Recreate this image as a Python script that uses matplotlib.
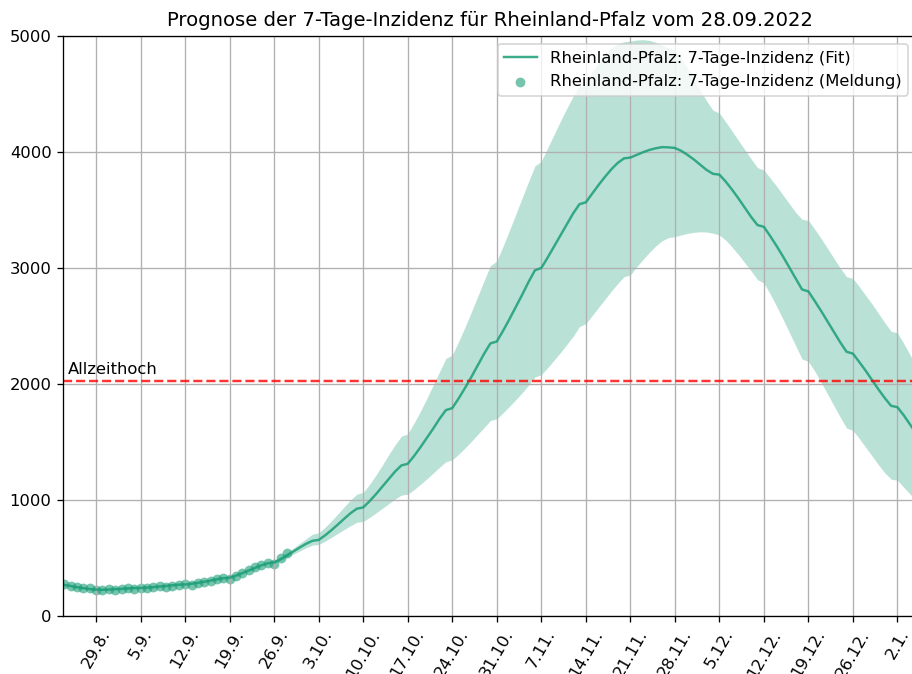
import numpy as np
import pandas as pd
import matplotlib
matplotlib.use("Agg")
import matplotlib.pyplot as plt
import matplotlib.dates as mdates

title = "Prognose der 7-Tage-Inzidenz für Rheinland-Pfalz vom 28.09.2022"
label_fit = "Rheinland-Pfalz: 7-Tage-Inzidenz (Fit)"
label_obs = "Rheinland-Pfalz: 7-Tage-Inzidenz (Meldung)"
record_label = "Allzeithoch"
record_value = 2030

fit_start = "2022-08-24"
fit_values = [
    268, 258, 248, 240, 232,                      # Aug 24-28
    228, 226, 228, 231, 234, 238, 241,            # Aug 29 -
    242, 245, 249, 254, 259, 265, 270,            # Sep 5 -
    272, 278, 286, 295, 305, 316, 326,            # Sep 12 -
    330, 348, 370, 392, 415, 437, 455,            # Sep 19 -
    462, 490, 522, 556, 590, 622, 648,            # Sep 26 -
    656, 695, 740, 788, 838, 886, 925,            # Oct 3 -
    936, 990, 1050, 1115, 1180, 1245, 1298,       # Oct 10 -
    1312, 1380, 1455, 1535, 1615, 1700, 1775,     # Oct 17 -
    1792, 1875, 1965, 2060, 2160, 2260, 2350,     # Oct 24 -
    2366, 2460, 2560, 2665, 2770, 2880, 2980,     # Oct 31 -
    3000, 3090, 3185, 3280, 3375, 3470, 3550,     # Nov 7 -
    3566, 3640, 3715, 3785, 3850, 3905, 3945,     # Nov 14 -
    3952, 3975, 3998, 4018, 4032, 4042, 4040,     # Nov 21 -
    4035, 4010, 3975, 3935, 3890, 3845, 3812,     # Nov 28 -
    3805, 3745, 3675, 3600, 3520, 3440, 3370,     # Dec 5 -
    3355, 3275, 3190, 3100, 3005, 2910, 2815,     # Dec 12 -
    2798, 2715, 2630, 2540, 2450, 2360, 2278,     # Dec 19 -
    2262, 2190, 2115, 2035, 1955, 1880, 1812,     # Dec 26 -
    1800, 1730, 1650, 1570,                       # Jan 2 - 5
]

band_start = "2022-09-26"
band_upper = [
    470, 505, 545, 585, 625, 665, 705,
    718, 765, 820, 880, 940, 1000, 1050,
    1065, 1135, 1215, 1300, 1390, 1475, 1550,
    1570, 1665, 1765, 1875, 1990, 2105, 2220,
    2250, 2365, 2490, 2620, 2755, 2890, 3020,
    3060, 3190, 3325, 3465, 3605, 3745, 3880,
    3920, 4035, 4150, 4265, 4375, 4480, 4570,
    4600, 4690, 4770, 4840, 4895, 4930, 4950,
    4955, 4965, 4968, 4962, 4945, 4920, 4895,
    4880, 4810, 4720, 4625, 4530, 4440, 4360,
    4336, 4260, 4180, 4100, 4020, 3940, 3865,
    3845, 3775, 3705, 3630, 3555, 3480, 3420,
    3410, 3335, 3255, 3170, 3085, 3000, 2925,
    2910, 2840, 2765, 2690, 2610, 2530, 2455,
    2440, 2350, 2250, 2150,
]
band_lower = [
    452, 478, 505, 533, 560, 588, 610,
    616, 645, 678, 712, 745, 778, 808,
    815, 850, 888, 928, 968, 1008, 1042,
    1050, 1090, 1135, 1182, 1232, 1282, 1330,
    1345, 1395, 1448, 1505, 1565, 1625, 1685,
    1700, 1752, 1808, 1865, 1925, 1990, 2060,
    2080, 2140, 2205, 2270, 2340, 2410, 2495,
    2520, 2590, 2660, 2730, 2800, 2865, 2925,
    2940, 3010, 3075, 3135, 3190, 3235, 3262,
    3270, 3285, 3298, 3308, 3312, 3310, 3300,
    3285, 3240, 3180, 3115, 3045, 2975, 2900,
    2870, 2775, 2670, 2560, 2445, 2330, 2215,
    2195, 2110, 2015, 1915, 1815, 1715, 1620,
    1600, 1530, 1455, 1380, 1305, 1235, 1180,
    1170, 1110, 1050, 990,
]

obs_start = "2022-08-24"
obs_values = [
    275, 262, 250, 245, 238,
    226, 222, 235, 228, 232, 240, 236,
    245, 238, 250, 255, 250, 262, 268,
    272, 268, 285, 290, 305, 320, 325,
    322, 345, 368, 395, 420, 440, 455,
    448, 500, 545,
]

fit_dates = pd.date_range(fit_start, periods=len(fit_values), freq="D")
band_dates = pd.date_range(band_start, periods=len(band_upper), freq="D")
obs_dates = pd.date_range(obs_start, periods=len(obs_values), freq="D")

W, H = 912, 674
DPI = 118
fig = plt.figure(figsize=(W / DPI, H / DPI), dpi=DPI)
ax = fig.add_axes([63 / W, 58 / H, (916.5 - 63) / W, 580 / H])

col = "#1b9e77"
ax.fill_between(band_dates, band_lower, band_upper, color=col, alpha=0.3, linewidth=0)
ax.plot(fit_dates, fit_values, color=col, alpha=0.85, lw=1.5, label=label_fit)
ax.scatter(obs_dates, obs_values, s=36, color=col, alpha=0.6, linewidths=0, label=label_obs)
ax.axhline(record_value, color="red", alpha=0.8, lw=1.5, ls="--")
ax.text(pd.Timestamp("2022-08-24 12:00"), record_value + 30, record_label, fontsize=10,
        ha="left", va="bottom")

ax.set_ylim(0, 5000)
ax.set_xlim(pd.Timestamp("2022-08-23 19:00"), pd.Timestamp("2023-01-05"))
ax.xaxis.set_major_locator(mdates.WeekdayLocator(byweekday=mdates.MO))
ax.xaxis.set_major_formatter(mdates.DateFormatter("%-d.%-m."))
plt.setp(ax.get_xticklabels(), rotation=60)
ax.grid(True)
ax.set_title(title, fontsize=12)
ax.legend(loc="upper right")

fig.savefig("out.png", dpi=DPI)
